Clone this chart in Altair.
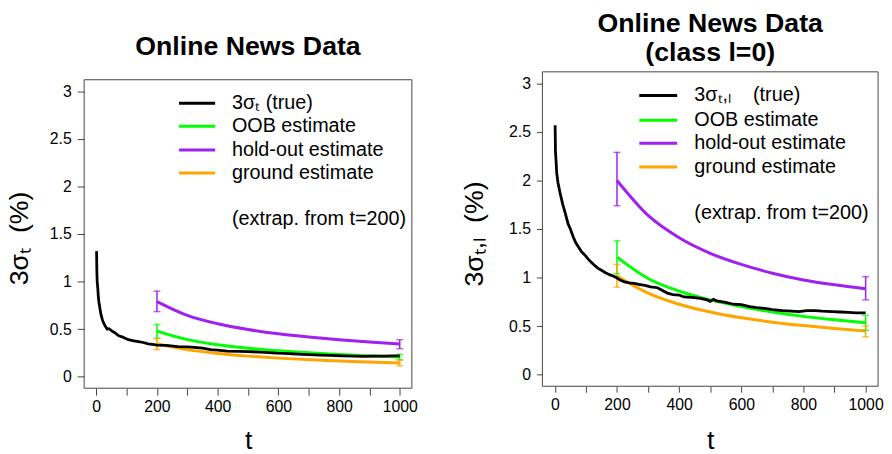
import altair as alt
import pandas as pd

FONT = "Liberation Sans"
NB = "\u00a0"

# ---------------- data ----------------
# left panel: true 3*sigma_t
true_t_left = [1, 2, 3, 5, 7, 9, 12, 15, 20, 25, 30, 36, 42, 52, 60, 74, 85, 95, 106, 120,
               139, 155, 171, 185, 200, 230, 269, 300, 323, 350, 377, 400, 431, 470, 500,
               540, 570, 594, 620, 648, 680, 702, 740, 770, 810, 850, 880, 919, 950, 975, 1000]
true_v_left = [1.32, 1.10, 1.00, 0.93, 0.83, 0.78, 0.72, 0.66, 0.60, 0.56, 0.53, 0.50, 0.505, 0.48,
               0.465, 0.43, 0.42, 0.405, 0.39, 0.38, 0.37, 0.36, 0.345, 0.34, 0.333, 0.33, 0.318,
               0.315, 0.31, 0.30, 0.285, 0.28, 0.27, 0.268, 0.265, 0.258, 0.255, 0.248, 0.245,
               0.24, 0.236, 0.233, 0.228, 0.224, 0.22, 0.216, 0.215, 0.216, 0.218, 0.22, 0.22]

# right panel: true 3*sigma_{t,l}
true_t_right = [1, 2, 4, 6, 10, 17, 25, 33, 43, 50, 59, 67, 75, 85, 97, 110, 123, 137, 150, 163,
                176, 195, 210, 224, 240, 256, 270, 290, 308, 330, 345, 362, 380, 400, 415, 440,
                468, 490, 500, 510, 521, 550, 574, 600, 627, 650, 680, 700, 733, 760, 786, 810,
                839, 860, 892, 920, 945, 970, 1000]
true_v_right = [2.57, 2.30, 2.20, 2.08, 1.98, 1.87, 1.76, 1.67, 1.55, 1.50, 1.42, 1.36, 1.32, 1.27,
                1.23, 1.18, 1.14, 1.10, 1.075, 1.05, 1.03, 1.005, 0.975, 0.956, 0.945, 0.94, 0.93,
                0.92, 0.905, 0.895, 0.87, 0.84, 0.825, 0.82, 0.80, 0.795, 0.785, 0.77, 0.755,
                0.775, 0.76, 0.745, 0.725, 0.72, 0.70, 0.69, 0.68, 0.67, 0.66, 0.655, 0.65, 0.66,
                0.66, 0.655, 0.65, 0.645, 0.64, 0.635, 0.635]

# extrapolated estimates (from t=200)
est_t = [200, 300, 400, 500, 600, 700, 800, 900, 1000]
oob_left = [0.479, 0.39, 0.337, 0.30, 0.273, 0.252, 0.235, 0.221, 0.209]
hold_left = [0.79, 0.645, 0.557, 0.497, 0.452, 0.418, 0.39, 0.365, 0.345]
ground_left = [0.347, 0.285, 0.245, 0.217, 0.196, 0.180, 0.166, 0.155, 0.145]

oob_right = [1.21, 0.99, 0.86, 0.77, 0.70, 0.645, 0.60, 0.565, 0.535]
hold_right = [2.0, 1.64, 1.41, 1.25, 1.135, 1.045, 0.975, 0.925, 0.885]
ground_right = [1.017, 0.84, 0.725, 0.645, 0.585, 0.54, 0.505, 0.475, 0.45]

# error bars at t=200 and t=1000
err_t = [200, 1000]
oob_left_lo, oob_left_hi = [0.405, 0.18], [0.55, 0.236]
hold_left_lo, hold_left_hi = [0.685, 0.295], [0.90, 0.39]
ground_left_lo, ground_left_hi = [0.285, 0.115], [0.40, 0.174]

oob_right_lo, oob_right_hi = [1.04, 0.457], [1.38, 0.61]
hold_right_lo, hold_right_hi = [1.74, 0.77], [2.29, 1.01]
ground_right_lo, ground_right_hi = [0.90, 0.39], [1.135, 0.50]

series_names = ["OOB estimate", "hold-out estimate", "ground estimate"]
series_colors = ["#00FF00", "#A020F0", "#FFA500"]

legend_left = ["3σₜ (true)", "OOB estimate", "hold-out estimate", "ground estimate"]
legend_right = ["3σₜ,ₗ" + NB * 4 + "(true)", "OOB estimate", "hold-out estimate",
                "ground estimate"]
legend_colors = ["black", "#00FF00", "#A020F0", "#FFA500"]
note_text = "(extrap. from t=200)"

ytitle_left = "3σₜ" + NB * 2 + "(%)"
ytitle_right = "3σₜ,ₗ" + NB * 2 + "(%)"

x_ticks = [0, 100, 200, 300, 400, 500, 600, 700, 800, 900, 1000]
y_ticks = [0, 0.5, 1, 1.5, 2, 2.5, 3]

dummy = pd.DataFrame({"d": [0]})


def panel(tt, tv, curves, errs, W, H, top, title, ytitle, ytx, yty, xtx, xty,
          legend_labels, lx0, lx1, ltx, lrows, note_y, tick_size, title_offset):
    yscale = alt.Scale(domain=[-0.12, 3.12], range=[H, top], nice=False, zero=False)
    xscale = alt.Scale(domain=[-40, 1040], nice=False, zero=False)
    x_enc = alt.X("t:Q", scale=xscale, axis=alt.Axis(
        values=x_ticks, labelExpr="datum.value % 200 === 0 ? datum.label : ''", format="d",
        grid=False, domain=False, tickColor="#444", tickSize=tick_size, tickWidth=1,
        labelFont=FONT, labelFontSize=16, labelColor="black", labelBaseline="alphabetic",
        labelPadding=24 - tick_size, labelFlush=False, labelOverlap=False,
        title="t", titleFont=FONT, titleFontSize=27, titleFontWeight="normal",
        titleColor="black", titleX=xtx, titleY=xty, titleBaseline="alphabetic",
        titleAlign="center"))
    y_enc = alt.Y("v:Q", scale=yscale, axis=alt.Axis(
        values=y_ticks, format="~g", grid=False, domain=False, tickColor="#444",
        tickSize=tick_size, tickWidth=1, labelFont=FONT, labelFontSize=16,
        labelColor="black", labelPadding=6, labelFlush=False, labelOverlap=False,
        title=ytitle, titleFont=FONT, titleFontSize=27, titleFontWeight="normal",
        titleColor="black", titleAngle=270, titleX=ytx, titleY=yty,
        titleBaseline="alphabetic", titleAlign="center"))
    color = alt.Color("series:N", scale=alt.Scale(domain=series_names, range=series_colors),
                      legend=None)

    rows = []
    for name, vals in zip(series_names, curves):
        for t, v in zip(est_t, vals):
            rows.append({"t": t, "v": v, "series": name})
    est_df = pd.DataFrame(rows)

    erows, crows = [], []
    for name, (lo, hi) in zip(series_names, errs):
        for t, a, b in zip(err_t, lo, hi):
            erows.append({"t": t, "v": a, "v2": b, "series": name})
            crows.append({"t": t, "v": a, "series": name})
            crows.append({"t": t, "v": b, "series": name})
    err_df = pd.DataFrame(erows)
    cap_df = pd.DataFrame(crows)
    true_df = pd.DataFrame({"t": tt, "v": tv})

    frame = alt.Chart(dummy).mark_rect(fill="transparent", stroke="#444", strokeWidth=1).encode(
        x=alt.value(0), x2=alt.value(W), y=alt.value(top), y2=alt.value(H))
    lines = alt.Chart(est_df).mark_line(strokeWidth=3, interpolate="monotone").encode(
        x=x_enc, y=y_enc, color=color, detail="series:N")
    bars = alt.Chart(err_df).mark_rule(strokeWidth=1.5).encode(
        x=x_enc, y=y_enc, y2="v2:Q", color=color)
    caps = alt.Chart(cap_df).mark_tick(orient="horizontal", size=7, thickness=1.5).encode(
        x=x_enc, y=y_enc, color=color)
    truel = alt.Chart(true_df).mark_line(color="black", strokeWidth=2.8).encode(x=x_enc, y=y_enc)

    layers = [frame, lines, bars, caps, truel]
    for lab, col, ry in zip(legend_labels, legend_colors, lrows):
        layers.append(alt.Chart(dummy).mark_rule(color=col, strokeWidth=3).encode(
            x=alt.value(lx0), x2=alt.value(lx1), y=alt.value(ry)))
        layers.append(alt.Chart(dummy).mark_text(
            text=lab, align="left", baseline="middle", font=FONT, fontSize=20,
            color="black").encode(x=alt.value(ltx), y=alt.value(ry)))
    layers.append(alt.Chart(dummy).mark_text(
        text=note_text, align="left", baseline="middle", font=FONT, fontSize=20,
        color="black").encode(x=alt.value(ltx), y=alt.value(note_y)))

    return alt.layer(*layers).properties(
        width=W, height=H,
        title=alt.TitleParams(text=title, font=FONT, fontSize=27, fontWeight="bold",
                              color="black", anchor="middle", baseline="alphabetic",
                              offset=title_offset, lineHeight=30))


left = panel(true_t_left, true_v_left, [oob_left, hold_left, ground_left],
             [(oob_left_lo, oob_left_hi), (hold_left_lo, hold_left_hi),
              (ground_left_lo, ground_left_hi)],
             W=331.5, H=320, top=8, title="Online News Data", ytitle=ytitle_left,
             ytx=-57, yty=168, xtx=166, xty=61, legend_labels=legend_left,
             lx0=96, lx1=132.5, ltx=149.5, lrows=[31.7, 55, 79, 102.3], note_y=149,
             tick_size=7, title_offset=-10)

right = panel(true_t_right, true_v_right, [oob_right, hold_right, ground_right],
              [(oob_right_lo, oob_right_hi), (hold_right_lo, hold_right_hi),
               (ground_right_lo, ground_right_hi)],
              W=339.5, H=318, top=0, title=["Online News Data", "(class l=0)"],
              ytitle=ytitle_right, ytx=-61, yty=163.5, xtx=169.7, xty=63,
              legend_labels=legend_right, lx0=98, lx1=136.3, ltx=153.7,
              lrows=[24, 49, 72.3, 96.3], note_y=143, tick_size=6, title_offset=-17)

chart = alt.hconcat(left, right, spacing=131.5, bounds="flush").configure_view(
    strokeWidth=0).properties(padding={"left": -2, "top": -1, "right": 0, "bottom": 0})

chart.save("out.html", embed_options={"renderer": "svg", "actions": False})
